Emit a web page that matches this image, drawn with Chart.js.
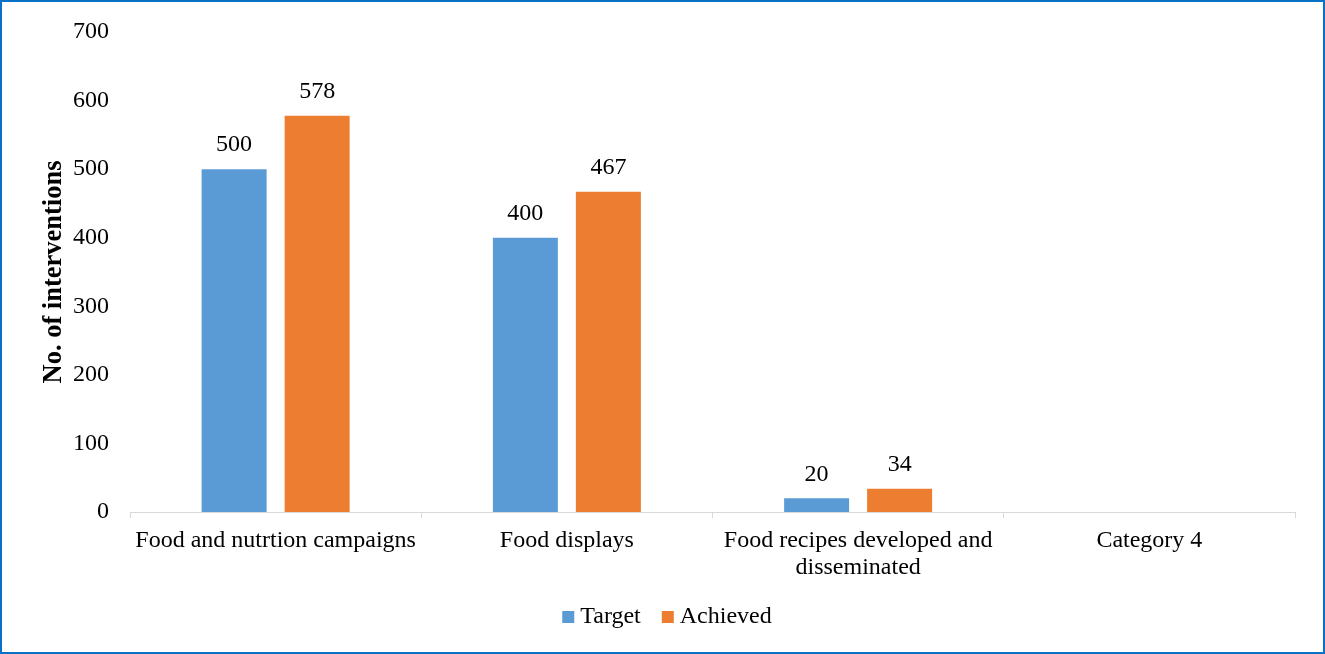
<!DOCTYPE html>
<html>
<head>
<meta charset="utf-8">
<script src="https://cdn.jsdelivr.net/npm/chart.js@4.4.1/dist/chart.umd.min.js"></script>
<style>
  html, body { margin: 0; padding: 0; background: #fff; }
  #frame {
    width: 1325px; height: 654px; box-sizing: border-box;
    border: 2px solid #0a72c6; background: #fff;
  }
  #frame canvas { display: block; }
</style>
</head>
<body>
<div id="frame"><canvas id="interventions" width="1321" height="650"></canvas></div>
<script>
const categories = [
  "Food and nutrtion campaigns",
  "Food displays",
  ["Food recipes developed and", "disseminated"],
  "Category 4"
];
const target = [500, 400, 20, null];
const achieved = [578, 467, 34, null];
const yTicks = [0, 100, 200, 300, 400, 500, 600, 700];

const serif = "'Liberation Serif', 'Times New Roman', serif";

// writes each bar's value just above it
const valueLabels = {
  id: "valueLabels",
  afterDatasetsDraw(chart) {
    const ctx = chart.ctx;
    ctx.save();
    ctx.font = "24px " + serif;
    ctx.fillStyle = "#000";
    ctx.textAlign = "center";
    ctx.textBaseline = "middle";
    chart.data.datasets.forEach((ds, i) => {
      chart.getDatasetMeta(i).data.forEach((bar, j) => {
        const v = ds.data[j];
        if (v == null) return;
        ctx.fillText(String(v), bar.x, bar.y - 24);
      });
    });
    ctx.restore();
  }
};

// compact legend centred under the chart: small square, short gap, name
const bottomLegend = {
  id: "bottomLegend",
  afterDraw(chart) {
    const ctx = chart.ctx;
    const box = 12, gap = 6, itemGap = 21;
    ctx.save();
    ctx.font = "24px " + serif;
    ctx.textBaseline = "middle";
    const items = chart.data.datasets.map(ds => ({
      text: ds.label,
      color: ds.backgroundColor,
      w: box + gap + ctx.measureText(ds.label).width
    }));
    const total = items.reduce((s, it) => s + it.w, 0) + itemGap * (items.length - 1);
    let x = 665 - total / 2;
    const y = 615;
    items.forEach(it => {
      ctx.fillStyle = it.color;
      ctx.fillRect(x, y - box / 2, box, box);
      ctx.fillStyle = "#000";
      ctx.textAlign = "left";
      ctx.fillText(it.text, x + box + gap, y);
      x += it.w + itemGap;
    });
    ctx.restore();
  }
};

new Chart(document.getElementById("interventions"), {
  type: "bar",
  data: {
    labels: categories,
    datasets: [
      {
        label: "Target",
        data: target,
        backgroundColor: "#5b9bd5",
        categoryPercentage: 0.57,
        barPercentage: 0.783
      },
      {
        label: "Achieved",
        data: achieved,
        backgroundColor: "#ed7d31",
        categoryPercentage: 0.57,
        barPercentage: 0.783
      }
    ]
  },
  options: {
    responsive: false,
    animation: false,
    layout: { padding: { top: 30, right: 28, bottom: 64, left: 0 } },
    plugins: {
      legend: { display: false },
      tooltip: { enabled: false }
    },
    scales: {
      x: {
        grid: {
          display: true,
          drawOnChartArea: false,
          drawTicks: true,
          tickLength: 6,
          color: "#d9d9d9"
        },
        border: { display: true, color: "#d9d9d9", width: 1 },
        ticks: {
          font: { family: serif, size: 24, lineHeight: 1.13 },
          color: "#000",
          padding: 9,
          maxRotation: 0,
          autoSkip: false
        },
        afterFit(scale) { scale.height = 76; }
      },
      y: {
        min: 0,
        max: 700,
        afterBuildTicks(scale) {
          scale.ticks = yTicks.map(v => ({ value: v }));
        },
        grid: { display: false, drawTicks: false },
        border: { display: false },
        ticks: {
          font: { family: serif, size: 24 },
          color: "#000",
          padding: 21
        },
        title: {
          display: true,
          text: "No. of interventions",
          font: { family: serif, size: 26.5, weight: "bold" },
          color: "#000",
          padding: { top: 36, bottom: 0 }
        },
        afterFit(scale) {
          scale.width = 128;
          scale.paddingTop = 0;
          scale.paddingBottom = 0;
        }
      }
    }
  },
  plugins: [valueLabels, bottomLegend]
});
</script>
</body>
</html>
